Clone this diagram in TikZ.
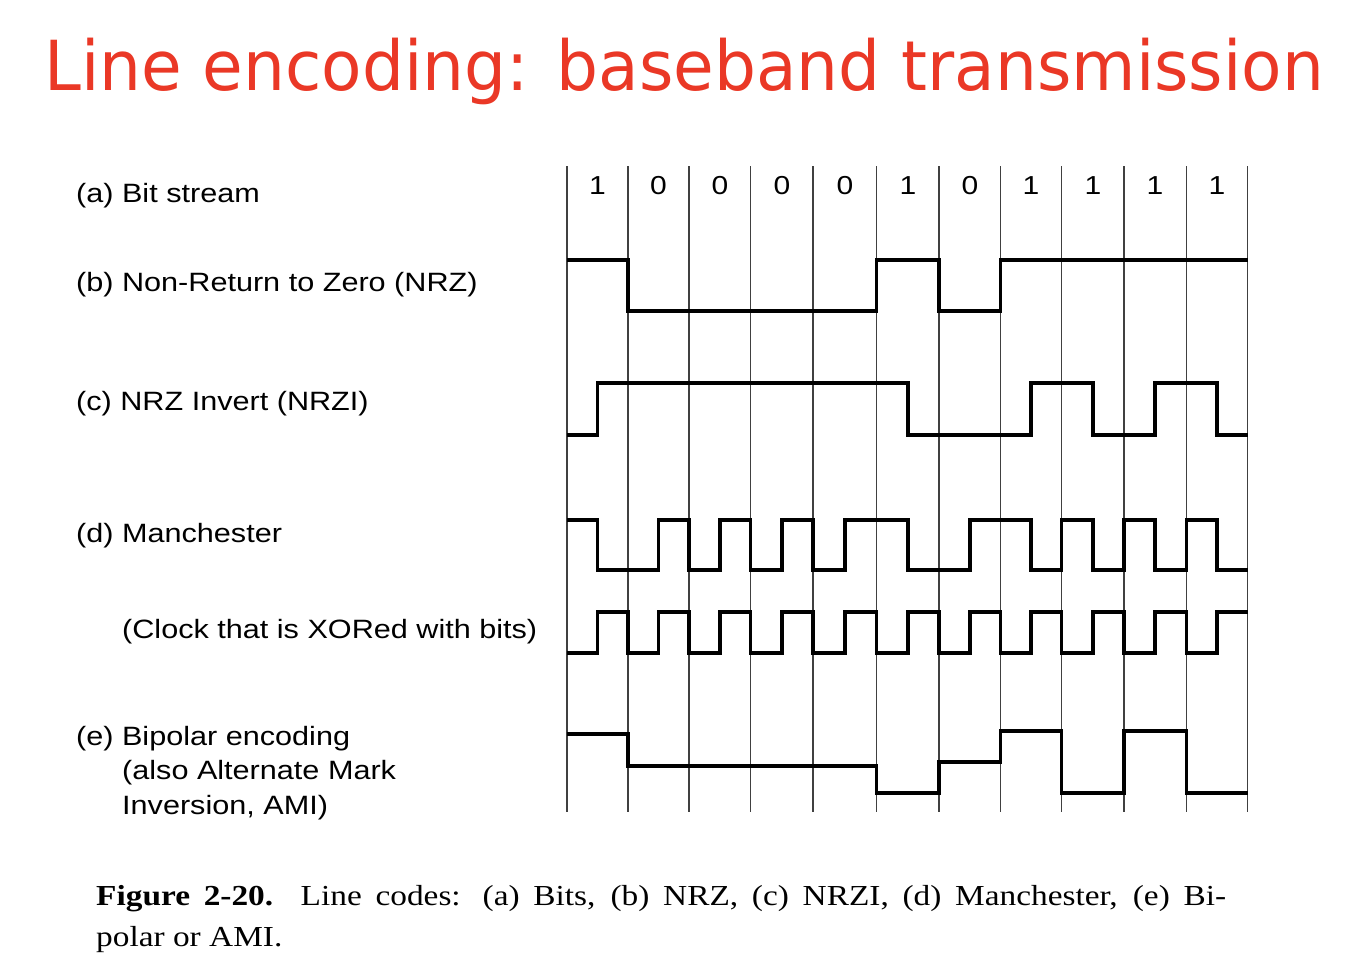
\documentclass[tikz,border=0pt]{standalone}
\usepackage{fontspec}
\setmainfont{Liberation Sans}
\newfontfamily\lblfont[FakeStretch=1.155]{Liberation Sans}
\newfontfamily\titlefont[FakeStretch=0.958]{DejaVu Sans}
\newfontfamily\capfont[FakeStretch=1.15]{Liberation Serif}
\definecolor{titlered}{RGB}{234,56,38}
\begin{document}
\begin{tikzpicture}[x=1pt,y=-1pt,
  gridline/.style={draw=black!75,line width=1.2pt},
  signal/.style={draw=black,line width=3.2pt,line join=miter,line cap=butt},
  lbl/.style={anchor=base west,inner sep=0pt,font=\lblfont\fontsize{26.5}{31}\selectfont},
  bitlbl/.style={anchor=base,inner sep=0pt,font=\lblfont\fontsize{26}{30}\selectfont},
  captext/.style={anchor=base west,inner sep=0pt,font=\capfont\fontsize{29}{35}\selectfont}]
\useasboundingbox (0,0) rectangle (1350,970);
% bit boundaries (X) and bit centres (M)
\def\Xa{567}\def\Xb{628}\def\Xc{689}\def\Xd{750.5}\def\Xe{813}\def\Xf{876.5}
\def\Xg{939}\def\Xh{1000.5}\def\Xi{1061.5}\def\Xj{1124}\def\Xk{1186.5}\def\Xl{1247.5}
\def\Ma{597.5}\def\Mb{658.5}\def\Mc{720}\def\Md{782}\def\Me{845}\def\Mf{908}
\def\Mg{970}\def\Mh{1031}\def\Mi{1093}\def\Mj{1155}\def\Mk{1217}

% title
\node[anchor=base west,inner sep=0pt,text=titlered,font=\titlefont\fontsize{69}{80}\selectfont]
  (title) at (44,90) {Line encoding: baseband transmission};

% row labels
\node[lbl] (la) at (76,202) {(a) Bit stream};
\node[lbl] (lb) at (76,291) {(b) Non-Return to Zero (NRZ)};
\node[lbl] (lc) at (76,410) {(c) NRZ Invert (NRZI)};
\node[lbl] (ld) at (76,542) {(d) Manchester};
\node[lbl] (lclk) at (122,638) {(Clock that is XORed with bits)};
\node[lbl] (le1) at (76,745) {(e) Bipolar encoding};
\node[lbl] (le2) at (122,779) {(also Alternate Mark};
\node[lbl] (le3) at (122,814) {Inversion, AMI)};

% vertical bit boundaries
\foreach \x in {\Xa,\Xb,\Xc,\Xd,\Xe,\Xf,\Xg,\Xh,\Xi,\Xj,\Xk,\Xl}
  \draw[gridline] (\x,166) -- (\x,812);

% bit values
\foreach \x/\b [count=\n] in {\Ma/1,\Mb/0,\Mc/0,\Md/0,\Me/0,\Mf/1,\Mg/0,\Mh/1,\Mi/1,\Mj/1,\Mk/1}
  \node[bitlbl] (bit\n) at (\x,194) {\b};

% (b) NRZ
\draw[signal] (\Xa,260) -- (\Xb,260) -- (\Xb,311) -- (\Xf,311) -- (\Xf,260) -- (\Xg,260)
  -- (\Xg,311) -- (\Xh,311) -- (\Xh,260) -- (\Xl,260);

% (c) NRZI
\draw[signal] (\Xa,435) -- (\Ma,435) -- (\Ma,383) -- (\Mf,383) -- (\Mf,435) -- (\Mh,435)
  -- (\Mh,383) -- (\Mi,383) -- (\Mi,435) -- (\Mj,435) -- (\Mj,383) -- (\Mk,383)
  -- (\Mk,435) -- (\Xl,435);

% (d) Manchester
\draw[signal] (\Xa,520) -- (\Ma,520) -- (\Ma,570) -- (\Mb,570) -- (\Mb,520) -- (\Xc,520)
  -- (\Xc,570) -- (\Mc,570) -- (\Mc,520) -- (\Xd,520) -- (\Xd,570) -- (\Md,570)
  -- (\Md,520) -- (\Xe,520) -- (\Xe,570) -- (\Me,570) -- (\Me,520) -- (\Mf,520)
  -- (\Mf,570) -- (\Mg,570) -- (\Mg,520) -- (\Mh,520) -- (\Mh,570) -- (\Xi,570)
  -- (\Xi,520) -- (\Mi,520) -- (\Mi,570) -- (\Xj,570) -- (\Xj,520) -- (\Mj,520)
  -- (\Mj,570) -- (\Xk,570) -- (\Xk,520) -- (\Mk,520) -- (\Mk,570) -- (\Xl,570);

% clock
\draw[signal] (\Xa,653) -- (\Ma,653) -- (\Ma,612) -- (\Xb,612) -- (\Xb,653) -- (\Mb,653)
  -- (\Mb,612) -- (\Xc,612) -- (\Xc,653) -- (\Mc,653) -- (\Mc,612) -- (\Xd,612)
  -- (\Xd,653) -- (\Md,653) -- (\Md,612) -- (\Xe,612) -- (\Xe,653) -- (\Me,653)
  -- (\Me,612) -- (\Xf,612) -- (\Xf,653) -- (\Mf,653) -- (\Mf,612) -- (\Xg,612)
  -- (\Xg,653) -- (\Mg,653) -- (\Mg,612) -- (\Xh,612) -- (\Xh,653) -- (\Mh,653)
  -- (\Mh,612) -- (\Xi,612) -- (\Xi,653) -- (\Mi,653) -- (\Mi,612) -- (\Xj,612)
  -- (\Xj,653) -- (\Mj,653) -- (\Mj,612) -- (\Xk,612) -- (\Xk,653) -- (\Mk,653)
  -- (\Mk,612) -- (\Xl,612);

% (e) Bipolar / AMI
\draw[signal] (\Xa,734) -- (\Xb,734) -- (\Xb,766) -- (\Xf,766) -- (\Xf,793) -- (\Xg,793)
  -- (\Xg,762) -- (\Xh,762) -- (\Xh,731) -- (\Xi,731) -- (\Xi,793) -- (\Xj,793)
  -- (\Xj,731) -- (\Xk,731) -- (\Xk,793) -- (\Xl,793);

% caption
\node[captext] (cap1) at (96,905) {\makebox[1130pt][s]{\textbf{Figure 2-20.}\ \ Line codes: (a) Bits, (b) NRZ, (c) NRZI, (d) Manchester, (e) Bi-}};
\node[captext] (cap2) at (96,946) {polar or AMI.};
\end{tikzpicture}
\end{document}
